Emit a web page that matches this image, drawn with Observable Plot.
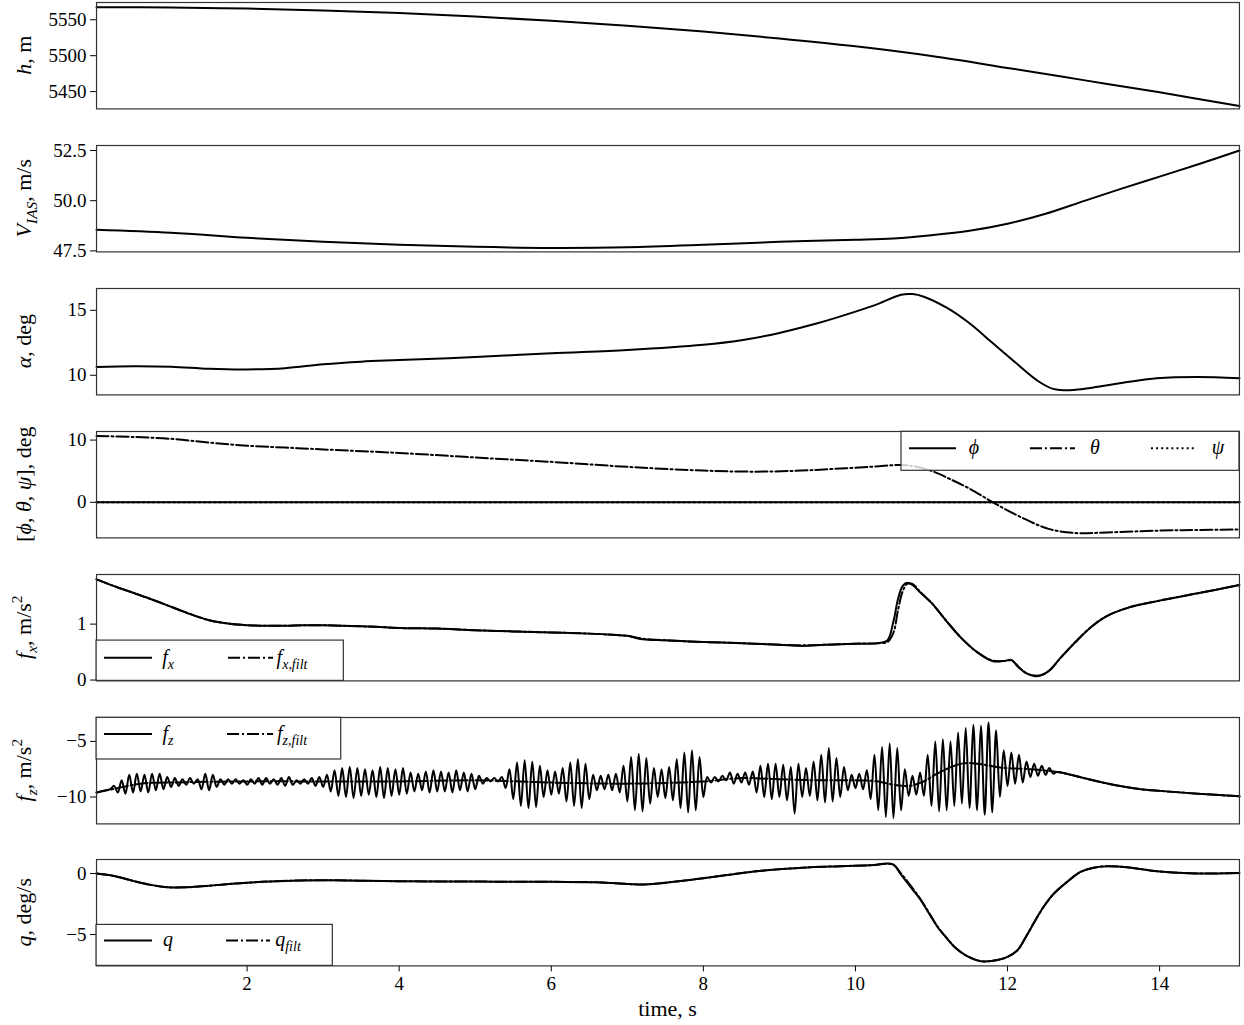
<!DOCTYPE html>
<html><head><meta charset="utf-8">
<script src="https://cdn.jsdelivr.net/npm/d3@7"></script>
<script src="https://cdn.jsdelivr.net/npm/@observablehq/plot@0.6"></script>
<style>
body{margin:0;background:#fff;}
#chart{position:relative;width:1244px;height:1025px;font-family:"Liberation Serif","DejaVu Serif",serif;}
#chart svg{position:absolute;left:0;overflow:visible;}
</style></head><body><div id="chart"></div>
<script>
// ---------------- data ----------------
const xTicks = [2, 4, 6, 8, 10, 12, 14];

const hT = [0.02, 1, 2, 3, 4, 5, 6, 7, 8, 9, 10, 11, 12, 13, 14, 15.05];
const hV = [5567.5, 5567, 5565.5, 5563, 5559.5, 5554.5, 5548.5, 5541.5, 5533.5, 5524, 5513, 5499.5, 5483, 5466, 5449, 5430];
const hTicks = [5450, 5500, 5550];

const vT = [0.02, 1, 2, 3, 4, 5, 6, 7, 8, 9, 10, 10.5, 11, 11.5, 12, 12.5, 13, 13.5, 14, 14.5, 15.05];
const vV = [48.55, 48.4, 48.15, 47.95, 47.8, 47.7, 47.65, 47.68, 47.8, 47.95, 48.05, 48.12, 48.28, 48.5, 48.85, 49.35, 49.98, 50.6, 51.2, 51.8, 52.5];
const vTicks = [47.5, 50, 52.5];

const aT = [0.02, 0.5, 1, 1.5, 2, 2.5, 3, 3.5, 4, 5, 6, 7, 8, 8.5, 9, 9.5, 10, 10.3, 10.6, 10.75, 10.9, 11.2, 11.5, 11.8, 12.1, 12.4, 12.6, 12.75, 13, 13.25, 13.6, 13.96, 14.5, 15.05];
const aV = [10.64, 10.7, 10.66, 10.5, 10.45, 10.55, 10.85, 11.05, 11.17, 11.4, 11.7, 11.95, 12.35, 12.7, 13.26, 14.0, 14.9, 15.5, 16.2, 16.25, 16.05, 15.2, 14.0, 12.5, 11.0, 9.56, 8.95, 8.85, 8.95, 9.18, 9.5, 9.77, 9.87, 9.77];
const aTicks = [10, 15];

const angT = [0.02, 15.05];
const phiV = [0, 0];
const psiV = [0, 0];
const thT = [0.02, 0.5, 1, 1.5, 2, 2.5, 3, 4, 5, 6, 7, 8, 8.6, 9.2, 9.7, 10.2, 10.62, 10.8, 11, 11.25, 11.5, 11.83, 12.18, 12.54, 12.9, 13.3, 14, 14.5, 15.05];
const thV = [10.66, 10.5, 10.2, 9.6, 9.1, 8.8, 8.5, 7.93, 7.2, 6.5, 5.7, 5.1, 4.93, 5.05, 5.36, 5.7, 6.0, 5.7, 5.05, 3.7, 2.2, -0.16, -2.41, -4.27, -4.95, -4.85, -4.55, -4.45, -4.38];
const angTicks = [0, 10];

const fxT = [0.02, 0.25, 0.5, 0.75, 1.0, 1.25, 1.5, 1.75, 2.0, 2.25, 2.5, 2.75, 3.0, 3.25, 3.5, 3.75, 4.0, 4.5, 5.0, 5.5, 6.0, 6.5, 6.8, 7.0, 7.2, 7.5, 8.0, 8.5, 9.0, 9.3, 9.6, 10.0, 10.3, 10.42, 10.5, 10.56, 10.62, 10.68, 10.75, 10.85, 11.0, 11.2, 11.4, 11.6, 11.8, 11.95, 12.05, 12.15, 12.25, 12.36, 12.45, 12.55, 12.7, 12.9, 13.1, 13.3, 13.6, 14.0, 14.5, 15.05];
const fxV = [1.80, 1.68, 1.56, 1.44, 1.31, 1.18, 1.07, 1.01, 0.98, 0.97, 0.97, 0.98, 0.98, 0.97, 0.96, 0.95, 0.93, 0.92, 0.89, 0.87, 0.85, 0.83, 0.81, 0.79, 0.73, 0.71, 0.68, 0.66, 0.63, 0.61, 0.63, 0.65, 0.66, 0.71, 1.05, 1.45, 1.68, 1.74, 1.70, 1.57, 1.38, 1.05, 0.74, 0.50, 0.34, 0.34, 0.36, 0.22, 0.12, 0.07, 0.09, 0.17, 0.40, 0.69, 0.95, 1.14, 1.30, 1.42, 1.55, 1.70];
const fxFiltV = [1.80, 1.68, 1.56, 1.44, 1.31, 1.18, 1.07, 1.01, 0.98, 0.97, 0.97, 0.98, 0.98, 0.97, 0.96, 0.95, 0.93, 0.92, 0.89, 0.87, 0.85, 0.83, 0.81, 0.79, 0.74, 0.71, 0.68, 0.66, 0.63, 0.62, 0.63, 0.65, 0.66, 0.68, 0.85, 1.25, 1.58, 1.72, 1.72, 1.58, 1.38, 1.05, 0.74, 0.50, 0.35, 0.34, 0.35, 0.23, 0.12, 0.08, 0.09, 0.17, 0.40, 0.69, 0.95, 1.14, 1.30, 1.42, 1.55, 1.70];
const fxTicks = [0, 1];

const fzHeadT = [0.02, 0.1, 0.2];
const fzHeadV = [-9.6, -9.45, -9.3];
const fzOscStart = 0.25, fzOscStep = 0.05;
const fzOsc = [
  -9.0,-9.6,-8.5,-9.7,-8.0,-9.6,-7.9,-9.5,-8.0,-9.6,
  -7.9,-9.4,-7.9,-9.3,-8.2,-9.1,-8.3,-9.0,-8.4,-8.9,
  -8.3,-8.8,-8.4,-9.3,-7.9,-9.4,-8.0,-9.1,-8.4,-8.9,
  -8.4,-8.8,-8.4,-8.8,-8.5,-8.9,-8.4,-8.8,-8.3,-8.9,
  -8.3,-8.8,-8.4,-8.9,-8.3,-9.0,-8.2,-8.9,-8.5,-8.8,
  -8.4,-8.8,-8.3,-9.0,-8.2,-9.1,-8.0,-9.5,-7.6,-9.9,
  -7.4,-10.0,-7.3,-10.1,-7.4,-9.9,-7.5,-9.8,-7.6,-10.0,
  -7.3,-10.1,-7.4,-9.9,-7.5,-9.8,-7.4,-9.7,-7.8,-9.5,
  -7.9,-9.4,-7.7,-9.6,-7.6,-9.5,-7.7,-9.5,-7.8,-9.6,
  -7.6,-9.4,-7.8,-9.5,-7.9,-9.3,-8.1,-8.8,-8.3,-8.6,
  -8.3,-8.6,-8.2,-9.2,-7.5,-10.2,-6.9,-10.8,-6.7,-11.0,
  -6.8,-10.9,-7.2,-10.0,-7.6,-9.8,-7.7,-9.7,-7.4,-10.4,
  -6.9,-10.8,-6.6,-11.0,-7.0,-10.2,-8.0,-9.4,-8.1,-9.3,
  -8.0,-9.4,-7.9,-9.6,-7.2,-10.4,-6.4,-11.2,-6.1,-11.3,
  -6.5,-10.6,-7.4,-10.0,-7.5,-10.1,-7.3,-10.3,-6.6,-11.0,
  -6.0,-11.4,-5.8,-11.2,-6.4,-10.0,-8.2,-8.7,-8.2,-8.6,
  -8.1,-8.5,-7.8,-8.8,-7.9,-8.7,-7.8,-8.9,-7.7,-9.6,
  -7.2,-10.0,-7.0,-10.2,-7.0,-10.0,-7.1,-10.3,-7.3,-11.5,
  -7.0,-10.0,-7.4,-9.9,-6.8,-10.3,-6.2,-10.5,-5.6,-10.4,
  -6.5,-10.0,-7.3,-9.4,-8.0,-9.2,-7.9,-9.3,-7.6,-10.2,
  -6.2,-11.2,-5.5,-11.8,-5.2,-11.9,-5.6,-11.2,-7.5,-9.9,
  -8.1,-9.8,-7.8,-9.9,-6.2,-10.8,-5.0,-11.3,-4.8,-11.2,
  -5.0,-10.8,-4.2,-10.6,-3.8,-11.0,-3.5,-11.2,-3.6,-11.6,
  -3.3,-11.4,-4.0,-10.0,-5.8,-9.0,-6.0,-8.8,-6.2,-8.7,
  -6.8,-8.2,-7.0,-8.1,-7.2,-8.0,-7.4,-7.9,-7.75
];
const fzTailT = [12.8, 13.0, 13.25, 13.5, 13.75, 14.0, 14.5, 15.05];
const fzTailV = [-7.95, -8.3, -8.7, -9.04, -9.3, -9.45, -9.7, -9.94];
const fzFiltT = [0.02, 0.3, 0.6, 1, 2, 3, 4, 5, 6, 7, 8, 8.5, 9, 9.5, 10, 10.3, 10.5, 10.7, 10.9, 11.1, 11.4, 11.6, 11.9, 12.3, 12.65, 12.8, 13.0, 13.25, 13.5, 13.75, 14.0, 14.5, 15.05];
const fzFiltV = [-9.6, -9.2, -8.8, -8.7, -8.6, -8.6, -8.6, -8.5, -8.7, -8.8, -8.6, -8.3, -8.4, -8.5, -8.5, -8.6, -8.9, -9.0, -8.6, -7.8, -7.0, -7.0, -7.35, -7.5, -7.75, -7.95, -8.3, -8.7, -9.04, -9.3, -9.45, -9.7, -9.94];
const fzTicks = [-10, -5];

const qT = [0.02, 0.25, 0.5, 0.75, 0.95, 1.2, 1.4, 1.6, 1.8, 2.0, 2.3, 2.7, 3.1, 3.5, 4.0, 5.0, 6.0, 6.6, 7.0, 7.2, 7.4, 7.7, 8.0, 8.4, 8.8, 9.3, 9.8, 10.2, 10.49, 10.6, 10.75, 10.86, 11.0, 11.08, 11.2, 11.3, 11.45, 11.65, 11.85, 12.0, 12.13, 12.25, 12.39, 12.5, 12.61, 12.8, 12.96, 13.15, 13.32, 13.6, 13.93, 14.3, 14.58, 15.05];
const qV = [0.0, -0.2, -0.6, -0.95, -1.12, -1.13, -1.05, -0.95, -0.84, -0.75, -0.65, -0.57, -0.55, -0.59, -0.63, -0.66, -0.68, -0.72, -0.85, -0.9, -0.82, -0.62, -0.38, -0.05, 0.25, 0.48, 0.6, 0.68, 0.76, -0.1, -1.3, -2.19, -3.6, -4.38, -5.3, -6.0, -6.7, -7.19, -7.1, -6.83, -6.29, -5.1, -3.56, -2.5, -1.64, -0.6, 0.13, 0.5, 0.6, 0.5, 0.21, 0.05, 0.0, 0.05];
const qFiltV = [0.0, -0.2, -0.6, -0.95, -1.12, -1.13, -1.05, -0.95, -0.84, -0.75, -0.65, -0.57, -0.55, -0.59, -0.63, -0.66, -0.68, -0.72, -0.85, -0.9, -0.82, -0.62, -0.38, -0.05, 0.25, 0.48, 0.6, 0.68, 0.74, 0.0, -1.2, -2.15, -3.55, -4.35, -5.28, -6.0, -6.7, -7.18, -7.1, -6.83, -6.3, -5.1, -3.58, -2.5, -1.65, -0.6, 0.13, 0.5, 0.6, 0.5, 0.21, 0.05, 0.0, 0.05];
const qTicks = [-5, 0];

// ---------------- layout / style ----------------
const W = 1244, ML = 96, MR = 5;
const TOP0 = 2, PITCH = 142.9, FRAME_H = 106.4, MT = 10, MB = 10, MB_LAST = 60;
const X_DOMAIN = [0.02, 15.05];
const DD = "12,3,2,3";   // dash-dot
const DOT = "2,3.1";     // dotted
const LW = 2;
const TICK_FS = 19, LABEL_FS = 22, LEG_FS = 20;

const rows = (T, V) => T.map((t, i) => ({t, v: V[i]}));
const minus = d => (d < 0 ? "\u2212" + Math.abs(d) : String(d));

const fzRaw = [
  ...rows(fzHeadT, fzHeadV),
  ...fzOsc.map((v, i) => ({t: fzOscStart + i * fzOscStep, v})),
  ...rows(fzTailT, fzTailV)
];

const panels = [
  {label: [["h", 1], [", m"]], domain: [5426, 5574], ticks: hTicks, fmt: d => String(d),
   series: [{data: rows(hT, hV)}]},
  {label: [["V", 1], ["IAS", 1, "sub"], [", m/s"]], domain: [47.45, 52.75], ticks: vTicks, fmt: d => d.toFixed(1),
   series: [{data: rows(vT, vV)}]},
  {label: [["\u03b1", 1], [", deg"]], domain: [8.49, 16.68], ticks: aTicks, fmt: minus,
   series: [{data: rows(aT, aV)}]},
  {label: [["["], ["\u03d5", 1], [", "], ["\u03b8", 1], [", "], ["\u03c8", 1], ["], deg"]], domain: [-5.72, 11.38], ticks: angTicks, fmt: minus,
   series: [{data: rows(angT, phiV)}, {data: rows(thT, thV), dash: DD}, {data: rows(angT, psiV), dash: DOT}],
   legend: {pos: "top-right", x: 901, w: 338, h: 39, lineDy: 17,
     items: [{x1: 909, x2: 956, tx: 974, label: [["\u03d5", 1]]},
             {x1: 1030, x2: 1075, tx: 1095, label: [["\u03b8", 1]], dash: DD},
             {x1: 1151, x2: 1195, tx: 1218, label: [["\u03c8", 1]], dash: DOT}]}},
  {label: [["f", 1], ["x", 1, "sub"], [", m/s"], ["2", 0, "sup"]], domain: [-0.015, 1.887], ticks: fxTicks, fmt: minus,
   series: [{data: rows(fxT, fxV)}, {data: rows(fxT, fxFiltV), dash: DD}],
   legend: {pos: "bottom-left", x: 96, w: 247.3, h: 40.3, lineDy: 17.7,
     items: [{x1: 104, x2: 152, tx: 168, label: [["f", 1], ["x", 1, "sub"]]},
             {x1: 228, x2: 273, tx: 292, label: [["f", 1], ["x,filt", 1, "sub"]], dash: DD}]}},
  {label: [["f", 1], ["z", 1, "sub"], [", m/s"], ["2", 0, "sup"]], domain: [-12.42, -2.85], ticks: fzTicks, fmt: minus,
   series: [{data: fzRaw}, {data: rows(fzFiltT, fzFiltV), dash: DD}],
   legend: {pos: "top-left", x: 96, w: 244.7, h: 41.7, lineDy: 16.7,
     items: [{x1: 104, x2: 152, tx: 168, label: [["f", 1], ["z", 1, "sub"]]},
             {x1: 227, x2: 273, tx: 292, label: [["f", 1], ["z,filt", 1, "sub"]], dash: DD}]}},
  {label: [["q", 1], [", deg/s"]], domain: [-7.57, 1.15], ticks: qTicks, fmt: minus,
   series: [{data: rows(qT, qV)}, {data: rows(qT, qFiltV), dash: DD}],
   legend: {pos: "bottom-left", x: 96, w: 236.3, h: 41, lineDy: 16,
     items: [{x1: 104, x2: 152, tx: 168, label: [["q", 1]]},
             {x1: 226, x2: 270, tx: 288, label: [["q", 1], ["filt", 1, "sub"]], dash: DD}]}}
];

function richText(sel, segs, size) {
  let shift = 0;
  segs.forEach(([txt, it, pos]) => {
    const target = pos === "sub" ? 0.25 * size : pos === "sup" ? -0.4 * size : 0;
    const ts = sel.append("tspan").text(txt).attr("dy", target - shift);
    shift = target;
    if (it) ts.attr("font-style", "italic");
    if (pos) ts.attr("font-size", size * 0.7);
  });
}

const root = document.getElementById("chart");

panels.forEach((p, i) => {
  const last = i === panels.length - 1;
  const mb = last ? MB_LAST : MB;
  const marks = p.series.map(s => Plot.line(s.data, {
    x: "t", y: "v", stroke: "black", strokeWidth: LW,
    strokeDasharray: s.dash || null, curve: "catmull-rom"
  }));
  marks.push(Plot.frame({stroke: "#333", strokeWidth: 1.2}));
  const svg = Plot.plot({
    width: W, height: MT + FRAME_H + mb,
    marginLeft: ML, marginRight: MR, marginTop: MT, marginBottom: mb,
    style: {fontFamily: "'Liberation Serif','DejaVu Serif',serif", fontSize: TICK_FS + "px", color: "black", background: "transparent"},
    x: {domain: X_DOMAIN, axis: last ? "bottom" : null, ticks: xTicks, tickSize: 6, tickPadding: 5, label: null},
    y: {domain: p.domain, ticks: p.ticks, tickFormat: p.fmt, tickSize: 6, tickPadding: 4, label: null},
    marks
  });
  svg.style.top = (TOP0 + PITCH * i - MT) + "px";
  root.appendChild(svg);
  const s = d3.select(svg);

  // y label
  const yl = s.append("text")
    .attr("transform", `translate(31,${MT + FRAME_H / 2}) rotate(-90)`)
    .attr("text-anchor", "middle")
    .attr("font-size", LABEL_FS)
    .attr("fill", "black")
    .style("white-space", "pre");
  richText(yl, p.label, LABEL_FS);

  // legend
  if (p.legend) {
    const L = p.legend;
    const by = L.pos.startsWith("top") ? MT + 0.3 : MT + FRAME_H - L.h;
    const ly = by + L.lineDy;
    const g = s.append("g");
    g.append("rect").attr("x", L.x).attr("y", by).attr("width", L.w).attr("height", L.h)
      .attr("fill", "white").attr("fill-opacity", 0.8).attr("stroke", "#333").attr("stroke-width", 1.2);
    L.items.forEach(it => {
      g.append("line").attr("x1", it.x1).attr("x2", it.x2).attr("y1", ly).attr("y2", ly)
        .attr("stroke", "black").attr("stroke-width", LW)
        .attr("stroke-dasharray", it.dash || null);
      const tx = g.append("text").attr("x", it.tx).attr("y", ly + 6)
        .attr("font-size", LEG_FS).attr("fill", "black").style("white-space", "pre");
      richText(tx, it.label, LEG_FS);
    });
  }

  // x label
  if (last) {
    s.append("text").attr("x", (ML + W - MR) / 2).attr("y", MT + FRAME_H + 50.5)
      .attr("text-anchor", "middle").attr("font-size", LABEL_FS).attr("fill", "black")
      .text("time, s");
  }
});
</script>
</body></html>
